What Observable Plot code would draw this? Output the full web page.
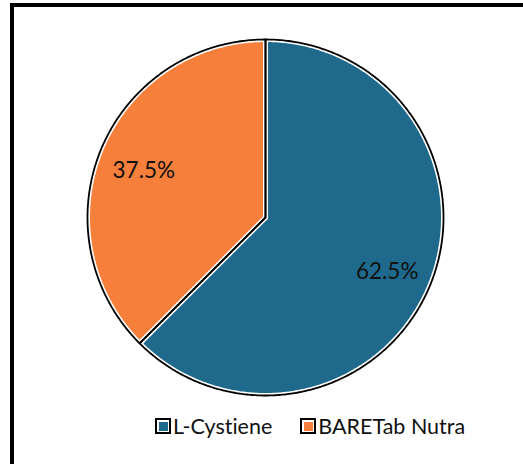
<!DOCTYPE html>
<html>
<head>
<meta charset="utf-8">
<script src="https://cdn.jsdelivr.net/npm/d3@7"></script>
<script src="https://cdn.jsdelivr.net/npm/@observablehq/plot@0.6"></script>
<style>
  html, body { margin: 0; padding: 0; background: #fff; overflow: hidden; width: 523px; height: 464px; }
  #wrap { position: relative; width: 523px; height: 464px; }
  #frame { position: absolute; left: 10px; top: 3px; width: 600px; height: 600px; border: 4px solid #000; box-sizing: border-box; pointer-events: none; }
  #chart { position: absolute; left: 0; top: 0; }
  #legend { position: absolute; left: 155px; top: 413px; font-family: Lato, "Open Sans", sans-serif; font-size: 21.5px; color: #111; display: flex; align-items: center; white-space: nowrap; font-variant-ligatures: none; font-feature-settings: "liga" 0, "clig" 0; }
  .item { display: flex; align-items: center; margin-right: 28px; }
  .sw { width: 16px; height: 16px; box-sizing: border-box; border: 2px solid #000; background: #fff; display: flex; align-items: center; justify-content: center; margin-right: 2px; }
  .sw span { width: 9px; height: 9px; display: block; }
</style>
</head>
<body>
<div id="wrap">
  <div id="chart"></div>
  <div id="legend"></div>
  <div id="frame"></div>
</div>
<script>
const categories = ["L-Cystiene", "BARETab Nutra"];
const values = [62.5, 37.5];
const colors = ["#1f698c", "#f67f3b"];
const labels = ["62.5%", "37.5%"];

const pie = d3.pie().sort(null).value(d => d.value);
const arcs = pie(categories.map((c, i) => ({category: c, value: values[i], color: colors[i], label: labels[i]})));

// polygon vertices of each slice in unit coordinates (y up)
const pts = [];
arcs.forEach((a, k) => {
  const n = Math.max(2, Math.ceil((a.endAngle - a.startAngle) / 0.01));
  pts.push({slice: k, x: 0, y: 0});
  for (let i = 0; i <= n; i++) {
    const t = a.startAngle + (a.endAngle - a.startAngle) * i / n;
    pts.push({slice: k, x: Math.sin(t), y: Math.cos(t)});
  }
  pts.push({slice: k, x: 0, y: 0});
});
const labelPts = arcs.map(a => {
  const m = (a.startAngle + a.endAngle) / 2;
  return {x: Math.sin(m) * 0.74, y: Math.cos(m) * 0.74 - 0.02, label: a.data.label};
});

const chart = Plot.plot({
  width: 523,
  height: 464,
  margin: 0,
  x: {domain: [-1, 1], range: [87, 443], axis: null},
  y: {domain: [-1, 1], range: [395, 39], axis: null},
  color: {domain: [0, 1], range: colors, type: "ordinal"},
  marks: [
    Plot.line(pts, {x: "x", y: "y", z: "slice", fill: d => d.slice, stroke: "#fff", strokeWidth: 5, strokeLinejoin: "round", curve: "linear"}),
    Plot.line(pts, {x: "x", y: "y", z: "slice", fill: "none", stroke: "#000", strokeWidth: 1.8, strokeLinejoin: "round", curve: "linear"}),
    Plot.text(labelPts, {x: "x", y: "y", text: "label", fontSize: 22.5, fill: "#111", fontFamily: "Lato, 'Open Sans', sans-serif"})
  ]
});
document.getElementById("chart").appendChild(chart);

const legend = document.getElementById("legend");
categories.forEach((c, i) => {
  const item = document.createElement("div");
  item.className = "item";
  const sw = document.createElement("div");
  sw.className = "sw";
  const inner = document.createElement("span");
  inner.style.background = colors[i];
  sw.appendChild(inner);
  const txt = document.createElement("span");
  txt.textContent = c;
  item.appendChild(sw);
  item.appendChild(txt);
  legend.appendChild(item);
});
</script>
</body>
</html>
